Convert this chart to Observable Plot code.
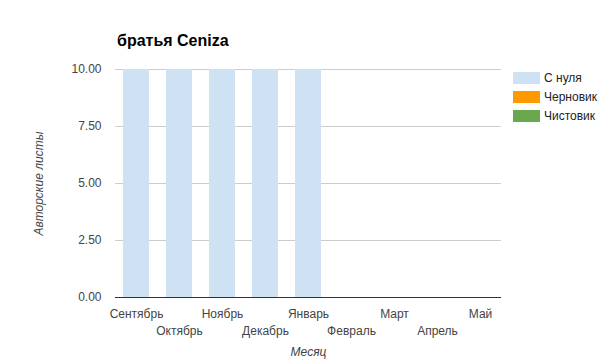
<!DOCTYPE html>
<html><head><meta charset="utf-8">
<script src="https://cdn.jsdelivr.net/npm/d3@7"></script>
<script src="https://cdn.jsdelivr.net/npm/@observablehq/plot@0.6"></script>
<style>
body{margin:0;background:#fff;font-family:"Liberation Sans",Arial,sans-serif;}
#wrap{position:relative;width:605px;height:364px;overflow:hidden;}
#title{position:absolute;left:117px;top:32px;font-size:16px;font-weight:bold;color:#000;}
#legend{position:absolute;left:513px;top:68px;font-size:12px;color:#222;}
.li{display:flex;align-items:center;height:19px;}
.sw{width:27px;height:12px;margin-right:4px;}
svg [aria-label="y-axis label"] text, svg [aria-label="x-axis label"] text{font-style:italic;}
</style></head>
<body><div id="wrap"><div id="title">братья Ceniza</div><div id="legend"></div></div>
<script>
const months = ["Сентябрь","Октябрь","Ноябрь","Декабрь","Январь","Февраль","Март","Апрель","Май"];
const seriesNames = ["С нуля","Черновик","Чистовик"];
const seriesColors = ["#cfe2f3","#ff9900","#6aa84f"];
const fromScratch = [10,10,10,10,10,0,0,0,0];
const draft = [0,0,0,0,0,0,0,0,0];
const clean = [0,0,0,0,0,0,0,0,0];
const yTicks = [0,2.5,5,7.5,10];

const seriesValues = [fromScratch, draft, clean];
const data = [];
seriesNames.forEach((s,si)=>months.forEach((m,mi)=>data.push({month:m, series:s, value:seriesValues[si][mi]})));

const chart = Plot.plot({
  width:605, height:364,
  marginLeft:115, marginRight:104, marginTop:69, marginBottom:67,
  style:{fontFamily:'"Liberation Sans",Arial,sans-serif', fontSize:"12px", color:"#444"},
  x:{domain:months, paddingInner:0.395, paddingOuter:0.186, round:false},
  y:{domain:[0,10]},
  color:{domain:seriesNames, range:seriesColors},
  marks:[
    Plot.gridY(yTicks, {stroke:"#ccc", strokeOpacity:1}),
    Plot.barY(data, Plot.stackY({x:"month", y:"value", fill:"series", order:seriesNames})),
    Plot.ruleY([0], {stroke:"#333"}),
    Plot.axisY(yTicks, {tickSize:0, tickPadding:14, tickFormat:d=>d.toFixed(2), fill:"#444",
      label:"Авторские листы", labelAnchor:"center", labelArrow:"none", labelOffset:81}),
    Plot.axisX(months.filter((d,i)=>i%2===0), {tickSize:0, tickPadding:12, fill:"#444", label:null}),
    Plot.axisX(months.filter((d,i)=>i%2===1), {tickSize:0, tickPadding:29, fill:"#444",
      label:"Месяц", labelAnchor:"center", labelArrow:"none", labelOffset:58})
  ]
});
document.getElementById("wrap").prepend(chart);
chart.style.position="absolute"; chart.style.left="0"; chart.style.top="0";
const lg = document.getElementById("legend");
seriesNames.forEach((s,i)=>{
  const d=document.createElement("div"); d.className="li";
  d.innerHTML=`<div class="sw" style="background:${seriesColors[i]}"></div><span>${s}</span>`;
  lg.appendChild(d);
});
</script></body></html>
